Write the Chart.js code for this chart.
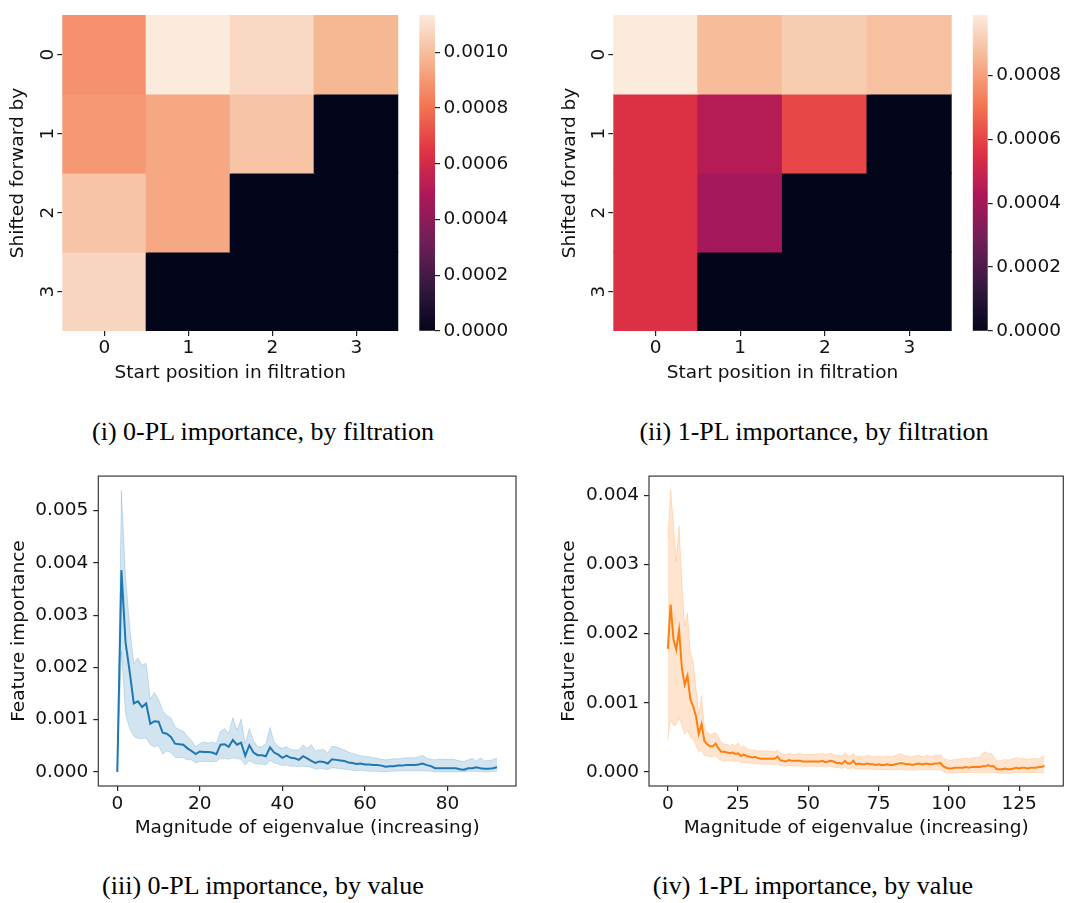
<!DOCTYPE html>
<html>
<head>
<meta charset="utf-8">
<script src="https://cdn.jsdelivr.net/npm/chart.js@4.4.1/dist/chart.umd.min.js"></script>
<style>
  body { margin: 0; background: #fff; width: 1067px; height: 903px; position: relative; overflow: hidden; }
  canvas { position: absolute; }
  .cap { position: absolute; font-family: "Liberation Serif", serif; font-size: 26px; color: #000;
         transform: translate(-50%, -50%); white-space: nowrap; }
</style>
</head>
<body>
<div class="cap" style="left:263px; top:432px">(i) 0-PL importance, by filtration</div>
<div class="cap" style="left:814px; top:432px">(ii) 1-PL importance, by filtration</div>
<div class="cap" style="left:263px; top:886px">(iii) 0-PL importance, by value</div>
<div class="cap" style="left:813px; top:886px">(iv) 1-PL importance, by value</div>
<script>
// ---- data ----
var startPos = ['0', '1', '2', '3'];
var shifted = ['0', '1', '2', '3'];

// rows = shifted forward by, columns = start position
var imp0 = [
  [0.00088, 0.001134, 0.00108, 0.00098],
  [0.00090, 0.00094, 0.00102, 0],
  [0.00102, 0.00094, 0, 0],
  [0.00107, 0, 0, 0]
];
var imp1 = [
  [0.000989, 0.00087, 0.00091, 0.00088],
  [0.00055, 0.000446, 0.00061, 0],
  [0.00055, 0.000406, 0, 0],
  [0.00055, 0, 0, 0]
];
var cbTicks0 = [0, 0.0002, 0.0004, 0.0006, 0.0008, 0.0010];
var cbTicks1 = [0, 0.0002, 0.0004, 0.0006, 0.0008];

// importance by eigenvalue magnitude: mean and band
var mean0 = [0, 0.00386, 0.00248, 0.00192, 0.00131, 0.00135, 0.00124, 0.00131, 0.00092, 0.00097,
  0.00096, 0.00075, 0.00073, 0.00067, 0.00054, 0.00053, 0.00052, 0.00045, 0.0004, 0.00034,
  0.00039, 0.00038, 0.00038, 0.00037, 0.00034, 0.00052, 0.00053, 0.00048, 0.00061, 0.00052,
  0.00056, 0.00031, 0.00051, 0.00037, 0.00032, 0.00032, 0.0003, 0.00047, 0.00037, 0.00033,
  0.00027, 0.00031, 0.00027, 0.00026, 0.00023, 0.0003, 0.00026, 0.00021, 0.00017, 0.0002,
  0.00019, 0.00016, 0.00024, 0.00023, 0.00022, 0.00021, 0.00018, 0.00017, 0.00015, 0.00016,
  0.00014, 0.00014, 0.00013, 0.00013, 0.00012, 0.0001, 0.00011, 0.00011, 0.00012, 0.00012,
  0.00013, 0.00013, 0.00013, 0.00014, 0.00016, 0.00013, 0.00011, 0.00007, 0.00007, 0.00007,
  0.00007, 0.00007, 0.00007, 0.00005, 0.00004, 0.00007, 0.00007, 0.00009, 0.00007, 0.00006,
  0.00006, 0.00007, 0.00009];
var upper0 = [0, 0.00539, 0.00373, 0.00279, 0.00207, 0.00218, 0.00204, 0.00208, 0.00139, 0.00152,
  0.00139, 0.00117, 0.00108, 0.00103, 0.00086, 0.00081, 0.00078, 0.00068, 0.0006, 0.00048,
  0.00054, 0.00057, 0.00055, 0.00057, 0.00054, 0.00078, 0.00083, 0.00073, 0.00104, 0.0008,
  0.00101, 0.00054, 0.00083, 0.0006, 0.00048, 0.00048, 0.00054, 0.00085, 0.00057, 0.00048,
  0.00045, 0.00048, 0.00043, 0.00042, 0.00042, 0.00052, 0.00045, 0.00052, 0.0004, 0.00042,
  0.00043, 0.00036, 0.00049, 0.00048, 0.00045, 0.00042, 0.00038, 0.00035, 0.00033, 0.00031,
  0.0003, 0.00029, 0.00027, 0.00026, 0.00024, 0.00023, 0.00024, 0.00025, 0.00025, 0.00026,
  0.00027, 0.00027, 0.00027, 0.00029, 0.00032, 0.00026, 0.00024, 0.00023, 0.00024, 0.00024,
  0.00024, 0.00024, 0.00023, 0.00021, 0.0002, 0.00023, 0.00026, 0.00021, 0.00027, 0.00021,
  0.00022, 0.00023, 0.00027];
var lower0 = [0, 0.0023, 0.00111, 0.00083, 0.00068, 0.00064, 0.00064, 0.00065, 0.00052, 0.00048,
  0.0005, 0.00034, 0.0004, 0.00037, 0.00028, 0.00027, 0.00027, 0.00023, 0.00023, 0.00017,
  0.0002, 0.0002, 0.0002, 0.0002, 0.0002, 0.00026, 0.00026, 0.00024, 0.00027, 0.00025,
  0.00024, 0.00013, 0.00022, 0.00017, 0.00015, 0.00015, 0.00013, 0.00022, 0.00017, 0.00015,
  0.00012, 0.00013, 0.00011, 0.00011, 0.0001, 0.00011, 0.0001, 0.00009, 0.00005, 0.00007,
  0.00006, 0.00004, 0.00008, 0.00007, 0.00006, 0.00005, 0.00004, 0.00003, 0.00002, 0.00003,
  0.00002, 0.00001, 0.00001, 0.00001, 0, 0, 0.00001, 0.00001, 0.00002, 0.00002,
  0.00002, 0.00002, 0.00002, 0.00002, 0.00002, 0.00002, 0.00001, 0, 0, 0,
  0, 0, 0, 0, 0, 0.00001, 0.00001, 0.00001, 0, 0,
  0, 0.00001, 0.00001];

var mean1 = [0.00178, 0.00242, 0.00192, 0.00177, 0.00205, 0.0015, 0.00126, 0.00139, 0.00105, 0.00095,
  0.00081, 0.00055, 0.00069, 0.00045, 0.0004, 0.00037, 0.00037, 0.00041, 0.00034, 0.00029,
  0.00029, 0.00028, 0.00027, 0.00028, 0.00026, 0.00027, 0.00023, 0.00025, 0.00023, 0.00022,
  0.00021, 0.00022, 0.0002, 0.00019, 0.00019, 0.00019, 0.00019, 0.00019, 0.00019, 0.00022,
  0.00017, 0.00016, 0.00015, 0.00017, 0.00016, 0.00016, 0.00016, 0.00016, 0.00015, 0.00015,
  0.00015, 0.00015, 0.00015, 0.00015, 0.00015, 0.00016, 0.00014, 0.00015, 0.00016, 0.00015,
  0.00013, 0.00013, 0.00012, 0.00016, 0.00012, 0.00012, 0.00016, 0.00011, 0.00012, 0.00011,
  0.00011, 0.00012, 0.00011, 0.00011, 0.0001, 0.00011, 0.0001, 0.0001, 0.00011, 0.0001,
  0.0001, 0.00011, 0.00012, 0.00013, 0.00012, 0.00011, 0.00011, 0.0001, 0.00011, 0.00012,
  0.00011, 0.00011, 0.00012, 0.00011, 0.00011, 0.00012, 0.00012, 0.00013, 0.00008, 0.00006,
  0.00005, 0.00005, 0.00006, 0.00006, 0.00006, 0.00006, 0.00007, 0.00006, 0.00007, 0.00007,
  0.00007, 0.00007, 0.00008, 0.00008, 0.0001, 0.00008, 0.00008, 0.00004, 0.00004, 0.00004,
  0.00005, 0.00004, 0.00004, 0.00005, 0.00006, 0.00005, 0.00006, 0.00006, 0.00005, 0.00006,
  0.00006, 0.00006, 0.00007, 0.00007, 0.00009];
var upper1 = [0.00339, 0.00408, 0.00358, 0.00304, 0.00356, 0.00273, 0.00211, 0.0023, 0.00173, 0.00159,
  0.00121, 0.00083, 0.00109, 0.00064, 0.00057, 0.00054, 0.00055, 0.00057, 0.0005, 0.00043,
  0.0004, 0.0004, 0.00038, 0.0004, 0.00038, 0.00042, 0.00035, 0.00038, 0.00034, 0.00032,
  0.00031, 0.00032, 0.0003, 0.00031, 0.0003, 0.00031, 0.0003, 0.0003, 0.00029, 0.00032,
  0.00027, 0.00026, 0.00025, 0.00027, 0.00026, 0.00025, 0.00026, 0.00027, 0.00025, 0.00025,
  0.00025, 0.00026, 0.00025, 0.00026, 0.00026, 0.00027, 0.00025, 0.00026, 0.00027, 0.00025,
  0.00024, 0.00024, 0.00023, 0.00028, 0.00023, 0.00024, 0.00027, 0.00022, 0.00023, 0.00022,
  0.00022, 0.00024, 0.00023, 0.00022, 0.00022, 0.00023, 0.00022, 0.00022, 0.00023, 0.00022,
  0.00022, 0.00024, 0.00026, 0.00026, 0.00024, 0.00023, 0.00022, 0.00022, 0.00023, 0.00024,
  0.00023, 0.00022, 0.00024, 0.00023, 0.00022, 0.00024, 0.00024, 0.00025, 0.00019, 0.00018,
  0.00017, 0.00017, 0.00018, 0.00018, 0.00019, 0.00019, 0.0002, 0.00019, 0.0002, 0.00021,
  0.00021, 0.00022, 0.00027, 0.00029, 0.00026, 0.00027, 0.00022, 0.00016, 0.00016, 0.00017,
  0.00018, 0.00017, 0.00018, 0.00019, 0.00021, 0.00019, 0.0002, 0.00019, 0.00018, 0.00019,
  0.0002, 0.00019, 0.00019, 0.00021, 0.00024];
var lower1 = [0.00045, 0.00076, 0.00067, 0.00068, 0.00079, 0.00067, 0.00055, 0.0006, 0.0005, 0.00048,
  0.00038, 0.00029, 0.00031, 0.00024, 0.00023, 0.00022, 0.00022, 0.00023, 0.00019, 0.00017,
  0.00016, 0.00016, 0.00016, 0.00016, 0.00015, 0.00016, 0.00013, 0.00014, 0.00013, 0.00013,
  0.00012, 0.00012, 0.00012, 0.00011, 0.00011, 0.00011, 0.00011, 0.00011, 0.00011, 0.00012,
  0.00009, 0.00009, 0.00008, 0.00009, 0.00009, 0.00008, 0.00008, 0.00008, 0.00008, 0.00008,
  0.00008, 0.00008, 0.00008, 0.00008, 0.00008, 0.00008, 0.00007, 0.00008, 0.00008, 0.00007,
  0.00006, 0.00006, 0.00005, 0.00007, 0.00005, 0.00005, 0.00006, 0.00004, 0.00004, 0.00004,
  0.00004, 0.00004, 0.00004, 0.00004, 0.00003, 0.00004, 0.00003, 0.00003, 0.00004, 0.00003,
  0.00003, 0.00003, 0.00004, 0.00004, 0.00003, 0.00003, 0.00003, 0.00002, 0.00003, 0.00003,
  0.00003, 0.00003, 0.00003, 0.00003, 0.00003, 0.00003, 0.00003, 0.00003, 0, -0.00001,
  -0.00001, -0.00001, -0.00001, -0.00001, -0.00001, -0.00001, -0.00001, -0.00001, -0.00001, -0.00001,
  -0.00001, -0.00001, -0.00001, -0.00001, -0.00001, -0.00001, -0.00001, -0.00002, -0.00002, -0.00002,
  -0.00002, -0.00002, -0.00002, -0.00001, -0.00001, -0.00001, -0.00001, -0.00001, -0.00001, -0.00001,
  -0.00001, -0.00001, -0.00001, -0.00001, -0.00001];

var xTicks0 = [0, 20, 40, 60, 80];
var yTicks0 = [0, 0.001, 0.002, 0.003, 0.004, 0.005];
var xTicks1 = [0, 25, 50, 75, 100, 125];
var yTicks1 = [0, 0.001, 0.002, 0.003, 0.004];

// ---- style ----
var textColor = '#111';
var tickColor = '#222';
var FONT = 18.5;
Chart.defaults.font.family = '"DejaVu Sans", sans-serif';
Chart.defaults.font.size = FONT;
Chart.defaults.color = textColor;

// seaborn "rocket" colormap
var rocketStops = [
  [0.0, [3, 5, 26]], [0.143, [53, 25, 62]], [0.286, [112, 31, 87]], [0.429, [173, 23, 89]],
  [0.571, [225, 51, 66]], [0.714, [243, 118, 81]], [0.857, [246, 180, 143]], [1.0, [250, 235, 221]]
];
function rocket(t) {
  t = Math.max(0, Math.min(1, t));
  for (var i = 1; i < rocketStops.length; i++) {
    var a = rocketStops[i - 1], b = rocketStops[i];
    if (t <= b[0]) {
      var f = (t - a[0]) / (b[0] - a[0]);
      var c = a[1].map(function (v, k) { return Math.round(v + (b[1][k] - v) * f); });
      return 'rgb(' + c.join(',') + ')';
    }
  }
  return 'rgb(250,235,221)';
}
function rocketGradient(chart) {
  var a = chart.chartArea;
  if (!a) return rocket(0);
  var g = chart.ctx.createLinearGradient(0, a.bottom, 0, a.top);
  rocketStops.forEach(function (s) { g.addColorStop(s[0], 'rgb(' + s[1].join(',') + ')'); });
  return g;
}

function makeCanvas(x, y, w, h) {
  var c = document.createElement('canvas');
  c.width = w; c.height = h;
  c.style.left = x + 'px'; c.style.top = y + 'px';
  document.body.appendChild(c);
  return c;
}
function setTicks(list) {
  return function (s) { s.ticks = list.map(function (v) { return { value: v }; }); };
}

// row labels of the heatmaps are rotated like the matplotlib ones
var rowLabels = {
  id: 'rowLabels',
  afterDraw: function (chart) {
    var s = chart.scales.y, ctx = chart.ctx;
    ctx.save();
    ctx.font = FONT + 'px "DejaVu Sans"';
    ctx.fillStyle = textColor;
    ctx.textAlign = 'center';
    ctx.textBaseline = 'alphabetic';
    s.ticks.forEach(function (t, i) {
      ctx.save();
      ctx.translate(chart.chartArea.left - 16, s.getPixelForValue(t.value));
      ctx.rotate(-Math.PI / 2);
      ctx.fillText(shifted[i], 0, 6.7);
      ctx.restore();
    });
    ctx.restore();
  }
};

// full box around the line plots
var frame = {
  id: 'frame',
  afterDatasetsDraw: function (chart) {
    var a = chart.chartArea, ctx = chart.ctx;
    ctx.save();
    ctx.strokeStyle = '#3a3a3a';
    ctx.lineWidth = 1.2;
    ctx.strokeRect(a.left, a.top, a.right - a.left, a.bottom - a.top);
    ctx.restore();
  }
};

function heatmap(canvas, values, vmax, yWidth, padRight, yTitlePad) {
  return new Chart(canvas, {
    type: 'bar',
    data: {
      labels: startPos,
      datasets: values.map(function (row, r) {
        return {
          label: shifted[r],
          data: row.map(function () { return 1; }),
          backgroundColor: row.map(function (v) { return rocket(v / vmax); }),
          borderWidth: 0,
          inflateAmount: 0.6,
          barPercentage: 1,
          categoryPercentage: 1
        };
      })
    },
    options: {
      responsive: false,
      animation: false,
      layout: { padding: { top: 15, right: padRight, left: 0, bottom: 0 } },
      plugins: { legend: { display: false }, tooltip: { enabled: false } },
      scales: {
        x: {
          stacked: true,
          grid: { offset: false, drawOnChartArea: false, tickLength: 5, color: tickColor, lineWidth: 1.2 },
          border: { display: false },
          ticks: { padding: 1, color: textColor },
          title: { display: true, text: 'Start position in filtration', padding: { top: 0, bottom: 16 } },
          afterFit: function (s) { s.height = 69; }
        },
        y: {
          stacked: true, reverse: true, min: 0, max: 4,
          afterBuildTicks: setTicks([0.5, 1.5, 2.5, 3.5]),
          ticks: { display: false },
          grid: { drawOnChartArea: false, tickLength: 5, color: tickColor, lineWidth: 1.2 },
          border: { display: false },
          title: { display: true, text: 'Shifted forward by', padding: { top: yTitlePad, bottom: 0 } },
          afterFit: function (s) { s.width = yWidth; }
        }
      }
    },
    plugins: [rowLabels]
  });
}

function colorbar(canvas, vmax, ticks, padLeft, yWidth) {
  return new Chart(canvas, {
    type: 'bar',
    data: {
      labels: [''],
      datasets: [{
        data: [[0, vmax]],
        backgroundColor: function (ctx) { return rocketGradient(ctx.chart); },
        borderWidth: 0,
        barPercentage: 1,
        categoryPercentage: 1
      }]
    },
    options: {
      responsive: false,
      animation: false,
      layout: { padding: { left: padLeft, top: 15, bottom: 69, right: 0 } },
      plugins: { legend: { display: false }, tooltip: { enabled: false } },
      scales: {
        x: { display: false },
        y: {
          position: 'right', min: 0, max: vmax,
          afterBuildTicks: setTicks(ticks),
          ticks: { padding: 3.5, color: textColor, callback: function (v) { return v.toFixed(4); } },
          grid: { drawOnChartArea: false, tickLength: 5, color: tickColor, lineWidth: 1.2 },
          border: { display: false },
          afterFit: function (s) { s.width = yWidth; }
        }
      }
    }
  });
}

function pts(arr) { return arr.map(function (v, i) { return { x: i, y: v }; }); }

function bandChart(canvas, o) {
  return new Chart(canvas, {
    type: 'line',
    data: {
      datasets: [
        { data: pts(o.mean), borderColor: o.color, borderWidth: 2, pointRadius: 0, fill: false },
        { data: pts(o.upper), borderColor: o.band, backgroundColor: o.band, borderWidth: 1, pointRadius: 0, fill: '+1' },
        { data: pts(o.lower), borderColor: o.band, borderWidth: 1, pointRadius: 0, fill: false }
      ]
    },
    options: {
      responsive: false,
      animation: false,
      layout: { padding: { top: o.padTop, right: o.padRight, left: 0, bottom: 0 } },
      plugins: { legend: { display: false }, tooltip: { enabled: false } },
      scales: {
        x: {
          type: 'linear', min: o.xMin, max: o.xMax,
          afterBuildTicks: setTicks(o.xTicks),
          grid: { drawOnChartArea: false, tickLength: 5, color: tickColor, lineWidth: 1.2 },
          border: { display: false },
          ticks: { padding: 2, color: textColor },
          title: { display: true, text: 'Magnitude of eigenvalue (increasing)', padding: { top: 0, bottom: 11 } },
          afterFit: function (s) { s.height = 64; }
        },
        y: {
          min: o.yMin, max: o.yMax,
          afterBuildTicks: setTicks(o.yTicks),
          grid: { drawOnChartArea: false, tickLength: 5, color: tickColor, lineWidth: 1.2 },
          border: { display: false },
          ticks: { padding: 5, color: textColor, callback: function (v) { return v.toFixed(3); } },
          title: { display: true, text: 'Feature importance', padding: { top: o.yTitlePad, bottom: 0 } },
          afterFit: function (s) { s.width = o.yWidth; }
        }
      }
    },
    plugins: [frame]
  });
}

// ---- panels ----
heatmap(makeCanvas(0, 0, 410, 400), imp0, 0.001134, 62.3, 11.7, 7.2);
colorbar(makeCanvas(410, 0, 130, 400), 0.001134, cbTicks0, 9.3, 105);
heatmap(makeCanvas(540, 0, 420, 400), imp1, 0.000989, 73.3, 8.3, 18.9);
colorbar(makeCanvas(960, 0, 107, 400), 0.000989, cbTicks1, 12.7, 79.3);

bandChart(makeCanvas(0, 460, 530, 390), {
  mean: mean0, upper: upper0, lower: lower0,
  color: '#1f77b4', band: 'rgba(31,119,180,0.2)',
  xMin: -4.6, xMax: 96.6, yMin: -0.00027, yMax: 0.00566,
  xTicks: xTicks0, yTicks: yTicks0,
  yWidth: 98.3, padTop: 10.7, padRight: 14, yTitlePad: 8.2
});
bandChart(makeCanvas(540, 460, 527, 390), {
  mean: mean1, upper: upper1, lower: lower1,
  color: '#ff7f0e', band: 'rgba(255,127,14,0.2)',
  xMin: -6.7, xMax: 140.7, yMin: -0.000204, yMax: 0.00428,
  xTicks: xTicks1, yTicks: yTicks1,
  yWidth: 109, padTop: 11.7, padRight: 3.7, yTitlePad: 18.2
});
</script>
</body>
</html>
